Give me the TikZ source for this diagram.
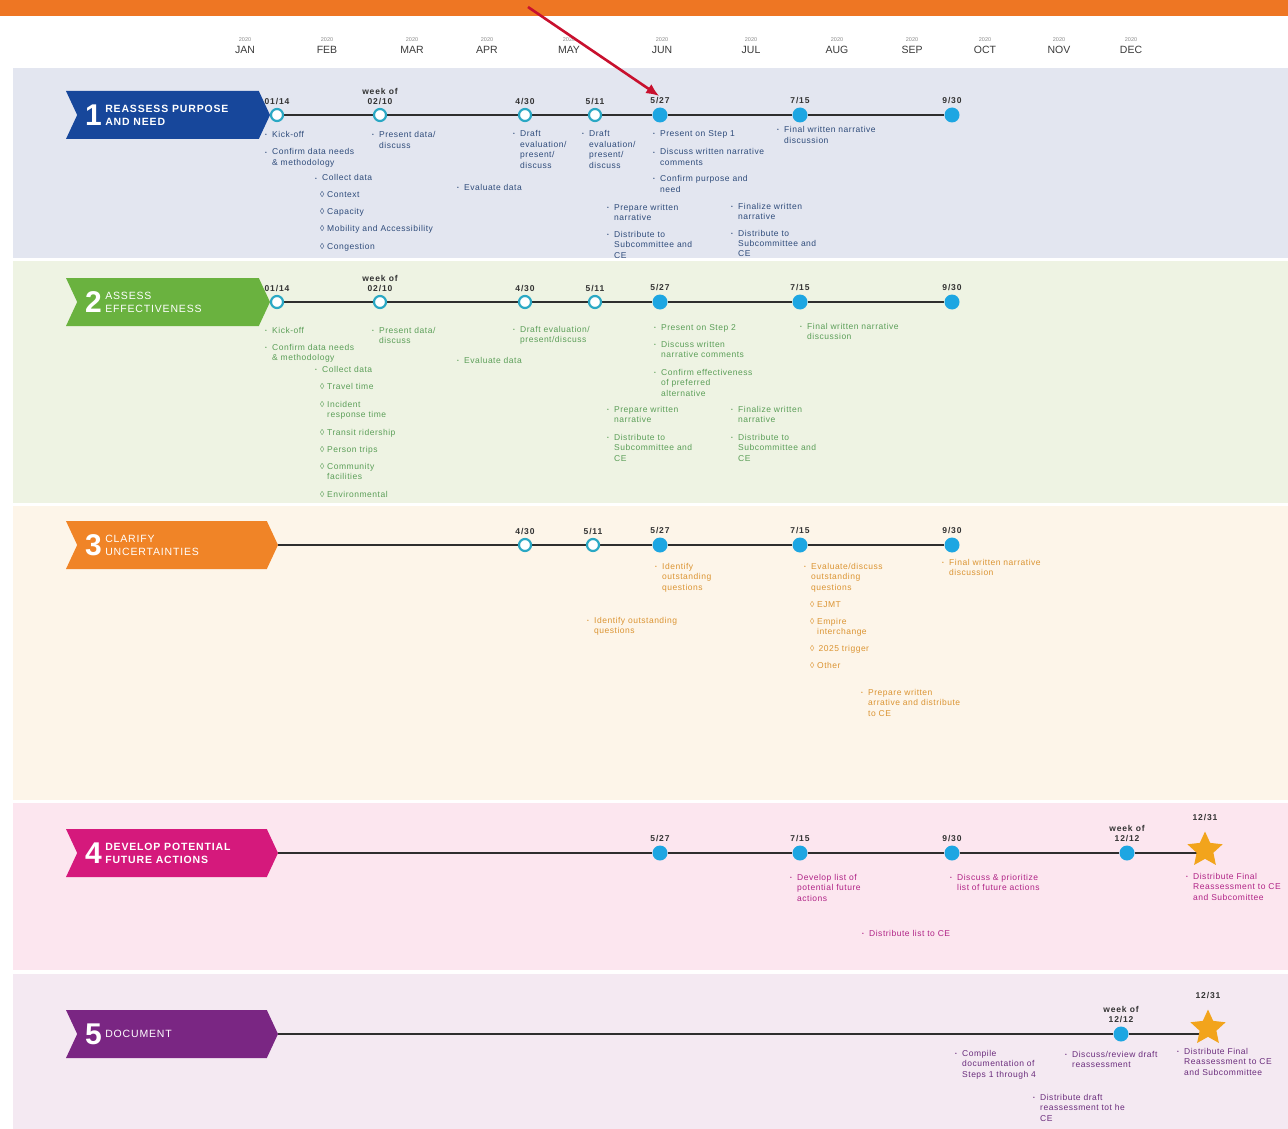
\documentclass[tikz,border=0pt]{standalone}
\usepackage{fontspec}
\setmainfont{Liberation Sans}
\newfontfamily\tlitemfont[LetterSpace=6]{Liberation Sans}
\newfontfamily\tldatefont[LetterSpace=10]{Liberation Sans}
\newfontfamily\tlbanfont[LetterSpace=8]{Liberation Sans}
\usetikzlibrary{positioning,shapes.symbols,shapes.geometric,arrows.meta}
\pgfdeclarelayer{bands}
\pgfdeclarelayer{lines}
\pgfsetlayers{bands,lines,main}

\definecolor{topbar}{HTML}{EE7623}
\definecolor{band1}{HTML}{E3E6F0}
\definecolor{band2}{HTML}{EEF3E3}
\definecolor{band3}{HTML}{FDF5E9}
\definecolor{band4}{HTML}{FCE6EF}
\definecolor{band5}{HTML}{F4E9F2}
\definecolor{ban1}{HTML}{17479B}
\definecolor{ban2}{HTML}{6AB23F}
\definecolor{ban3}{HTML}{F08427}
\definecolor{ban4}{HTML}{D5197C}
\definecolor{ban5}{HTML}{7A2683}
\definecolor{txt1}{HTML}{2E4B7A}
\definecolor{txt2}{HTML}{5B9E58}
\definecolor{txt3}{HTML}{DB9432}
\definecolor{txt4}{HTML}{B02386}
\definecolor{txt5}{HTML}{6A2C7C}
\definecolor{msfill}{HTML}{1DA6E2}
\definecolor{msring}{HTML}{2AA8C4}
\definecolor{stargold}{HTML}{F2A41C}
\definecolor{arrowred}{HTML}{C8102E}
\definecolor{tlgray}{HTML}{2E2E2E}
\definecolor{datecol}{HTML}{333333}
\definecolor{moncol}{HTML}{3A3A3A}
\definecolor{yrcol}{HTML}{8A8A8A}

\newcommand{\bul}[1]{\makebox[7pt][l]{\raisebox{1pt}{\fontsize{5}{5}\selectfont•}}\begin{tabular}[t]{@{}l@{}}#1\end{tabular}}
\newcommand{\dia}[1]{\makebox[7pt][l]{◊}\begin{tabular}[t]{@{}l@{}}#1\end{tabular}}

\tikzset{
  tline/.style={draw=tlgray, line width=1.3pt},
  openms/.style={circle, draw=msring, fill=white, line width=2.2pt, minimum size=12pt, inner sep=0pt},
  fullms/.style={circle, fill=msfill, minimum size=15pt, inner sep=0pt},
  endstar/.style={star, star points=5, star point ratio=2.1, fill=stargold, minimum size=37pt, inner sep=0pt},
  datelbl/.style={font=\tldatefont\bfseries\fontsize{8.5}{10}\selectfont, text=datecol, align=center, inner sep=1pt},
  monlbl/.style={font=\fontsize{10.5}{12}\selectfont, text=moncol, inner sep=0pt},
  yrlbl/.style={font=\fontsize{5.5}{6}\selectfont, text=yrcol, inner sep=0pt},
  stepbanner/.style={signal, signal from=west, signal to=east, signal pointer angle=130, minimum height=48pt, inner sep=0pt},
  bandigit/.style={font=\bfseries\fontsize{30}{30}\selectfont, text=white, inner sep=0pt},
  bantitle/.style={font=\tlbanfont\fontsize{10.5}{13}\selectfont, text=white, align=left, inner sep=0pt},
  bantitlebf/.style={bantitle, font=\tlbanfont\bfseries\fontsize{10.5}{13}\selectfont},
  task/.style={anchor=base west, inner sep=0pt, font=\tlitemfont\fontsize{8.5}{10.5}\selectfont},
  redarrow/.style={draw=arrowred, line width=2.6pt, -{Latex[length=13pt,width=11pt]}}
}

\begin{document}
\begin{tikzpicture}[x=1pt,y=-1pt]
  \useasboundingbox (0,0) rectangle (1288,1129);

  % header and bands
  \begin{pgfonlayer}{bands}
    \fill[topbar] (0,0) rectangle (1288,16);
    \fill[band1] (13,68) rectangle (1288,258);
    \fill[band2] (13,261) rectangle (1288,503);
    \fill[band3] (13,506) rectangle (1288,800);
    \fill[band4] (13,803) rectangle (1288,970);
    \fill[band5] (13,974) rectangle (1288,1129);
  \end{pgfonlayer}

  \foreach \m/\x in {JAN/245,FEB/327,MAR/412,APR/487,MAY/569,JUN/662,
                     JUL/751,AUG/837,SEP/912,OCT/985,NOV/1059,DEC/1131} {
    \node[monlbl] (mon\m) at (\x,50) {\m};
    \node[yrlbl, above=4pt of mon\m] (yr\m) {2020};
  }

  % step banners
  \node[stepbanner, fill=ban1, minimum width=204pt] (bn1) at (168,115) {};
  \node[stepbanner, fill=ban2, minimum width=204pt] (bn2) at (168,302) {};
  \node[stepbanner, fill=ban3, minimum width=212pt] (bn3) at (172,545) {};
  \node[stepbanner, fill=ban4, minimum width=212pt] (bn4) at (172,853) {};
  \node[stepbanner, fill=ban5, minimum width=212pt] (bn5) at (172,1034) {};

  \node[bandigit, right=8pt of bn1.west] (n1) {1};
  \node[bantitlebf, right=3pt of n1] (t1) {REASSESS PURPOSE\\AND NEED};
  \node[bandigit, right=8pt of bn2.west] (n2) {2};
  \node[bantitle, right=3pt of n2] (t2) {ASSESS\\EFFECTIVENESS};
  \node[bandigit, right=8pt of bn3.west] (n3) {3};
  \node[bantitle, right=3pt of n3] (t3) {CLARIFY\\UNCERTAINTIES};
  \node[bandigit, right=8pt of bn4.west] (n4) {4};
  \node[bantitlebf, right=3pt of n4] (t4) {DEVELOP POTENTIAL\\FUTURE ACTIONS};
  \node[bandigit, right=8pt of bn5.west] (n5) {5};
  \node[bantitle, right=3pt of n5] (t5) {DOCUMENT};

  % milestones
  \foreach \row/\y in {1/115,2/302} {
    \foreach \n/\x/\d in {a/277/{01/14},b/380/{week of\\02/10},c/525/{4/30},d/595/{5/11}} {
      \node[openms] (r\row\n) at (\x,\y) {};
      \node[datelbl, above=2pt of r\row\n] (d\row\n) {\d};
    }
    \foreach \n/\x/\d in {e/660/{5/27},f/800/{7/15},g/952/{9/30}} {
      \node[fullms] (r\row\n) at (\x,\y) {};
      \node[datelbl, above=2pt of r\row\n] (d\row\n) {\d};
    }
  }
  \foreach \n/\x/\d in {c/525/{4/30},d/593/{5/11}} {
    \node[openms] (r3\n) at (\x,545) {};
    \node[datelbl, above=2pt of r3\n] (d3\n) {\d};
  }
  \foreach \n/\x/\d in {e/660/{5/27},f/800/{7/15},g/952/{9/30}} {
    \node[fullms] (r3\n) at (\x,545) {};
    \node[datelbl, above=2pt of r3\n] (d3\n) {\d};
  }
  \foreach \n/\x/\d in {e/660/{5/27},f/800/{7/15},g/952/{9/30},h/1127/{week of\\12/12}} {
    \node[fullms] (r4\n) at (\x,853) {};
    \node[datelbl, above=2pt of r4\n] (d4\n) {\d};
  }
  \node[fullms] (r5h) at (1121,1034) {};
  \node[datelbl, above=2pt of r5h] (d5h) {week of\\12/12};
  \node[endstar] (r4s) at (1205,850) {};
  \node[datelbl, above=9pt of r4s] (d4s) {12/31};
  \node[endstar] (r5s) at (1208,1028) {};
  \node[datelbl, above=9pt of r5s] (d5s) {12/31};

  % timelines
  \begin{pgfonlayer}{lines}
    \foreach \row in {1,2}
      \foreach \a/\b in {bn\row.east/r\row a,r\row a/r\row b,r\row b/r\row c,
                         r\row c/r\row d,r\row d/r\row e,r\row e/r\row f,r\row f/r\row g}
        \draw[tline] (\a) -- (\b);
    \foreach \a/\b in {bn3.east/r3c,r3c/r3d,r3d/r3e,r3e/r3f,r3f/r3g,
                       bn4.east/r4e,r4e/r4f,r4f/r4g,r4g/r4h,bn5.east/r5h}
      \draw[tline] (\a) -- (\b);
    \draw[tline] (r4h) -- (r4s.center |- r4h);
    \draw[tline] (r5h) -- (r5s.center |- r5h);
  \end{pgfonlayer}

  % pointer to 5/27
  \coordinate (arrtail) at (528,7);
  \draw[redarrow, shorten >=1pt] (arrtail) -- (d1e.north);

  % step 1 tasks
  \begin{scope}[nodes={task, text=txt1}]
    \node (k1a) at (265,138) {\bul{Kick-off}};
    \node (k1b) at (265,155) {\bul{Confirm data needs\\\& methodology}};
    \node (k1c) at (315,181) {\bul{Collect data}};
    \node (k1d) at (320,197) {\dia{Context}};
    \node (k1e) at (320,214) {\dia{Capacity}};
    \node (k1f) at (320,231) {\dia{Mobility and Accessibility}};
    \node (k1g) at (320,249) {\dia{Congestion}};
    \node (k1h) at (372,138) {\bul{Present data/\\discuss}};
    \node (k1i) at (457,190) {\bul{Evaluate data}};
    \node (k1j) at (513,137) {\bul{Draft\\evaluation/\\present/\\discuss}};
    \node (k1k) at (582,137) {\bul{Draft\\evaluation/\\present/\\discuss}};
    \node (k1l) at (653,137) {\bul{Present on Step 1}};
    \node (k1m) at (653,155) {\bul{Discuss written narrative\\comments}};
    \node (k1n) at (653,182) {\bul{Confirm purpose and\\need}};
    \node (k1o) at (607,210) {\bul{Prepare written\\narrative}};
    \node (k1p) at (607,237) {\bul{Distribute to\\Subcommittee and\\CE}};
    \node (k1q) at (777,133) {\bul{Final written narrative\\discussion}};
    \node (k1r) at (731,209) {\bul{Finalize written\\narrative}};
    \node (k1s) at (731,236) {\bul{Distribute to\\Subcommittee and\\CE}};
  \end{scope}

  % step 2 tasks
  \begin{scope}[nodes={task, text=txt2}]
    \node (k2a) at (265,333) {\bul{Kick-off}};
    \node (k2b) at (265,350) {\bul{Confirm data needs\\\& methodology}};
    \node (k2c) at (315,372) {\bul{Collect data}};
    \node (k2d) at (320,389) {\dia{Travel time}};
    \node (k2e) at (320,407) {\dia{Incident\\response time}};
    \node (k2f) at (320,435) {\dia{Transit ridership}};
    \node (k2g) at (320,452) {\dia{Person trips}};
    \node (k2h) at (320,469) {\dia{Community\\facilities}};
    \node (k2i) at (320,497) {\dia{Environmental}};
    \node (k2j) at (372,333) {\bul{Present data/\\discuss}};
    \node (k2k) at (457,363) {\bul{Evaluate data}};
    \node (k2l) at (513,332) {\bul{Draft evaluation/\\present/discuss}};
    \node (k2m) at (654,330) {\bul{Present on Step 2}};
    \node (k2n) at (654,347) {\bul{Discuss written\\narrative comments}};
    \node (k2o) at (654,375) {\bul{Confirm effectiveness\\of preferred\\alternative}};
    \node (k2p) at (607,412) {\bul{Prepare written\\narrative}};
    \node (k2q) at (607,440) {\bul{Distribute to\\Subcommittee and\\CE}};
    \node (k2r) at (800,329) {\bul{Final written narrative\\discussion}};
    \node (k2s) at (731,412) {\bul{Finalize written\\narrative}};
    \node (k2t) at (731,440) {\bul{Distribute to\\Subcommittee and\\CE}};
  \end{scope}

  % step 3 tasks
  \begin{scope}[nodes={task, text=txt3}]
    \node (k3a) at (655,569) {\bul{Identify\\outstanding\\questions}};
    \node (k3b) at (587,623) {\bul{Identify outstanding\\questions}};
    \node (k3c) at (804,569) {\bul{Evaluate/discuss\\outstanding\\questions}};
    \node (k3d) at (810,607) {\dia{EJMT}};
    \node (k3e) at (810,624) {\dia{Empire\\interchange}};
    \node (k3f) at (810,651) {\dia{\,2025 trigger}};
    \node (k3g) at (810,668) {\dia{Other}};
    \node (k3h) at (861,695) {\bul{Prepare written\\arrative and distribute\\to CE}};
    \node (k3i) at (942,565) {\bul{Final written narrative\\discussion}};
  \end{scope}

  % step 4 tasks
  \begin{scope}[nodes={task, text=txt4}]
    \node (k4a) at (790,880) {\bul{Develop list of\\potential future\\actions}};
    \node (k4b) at (950,880) {\bul{Discuss \& prioritize\\list of future actions}};
    \node (k4c) at (862,936) {\bul{Distribute list to CE}};
    \node (k4d) at (1186,879) {\bul{Distribute Final\\Reassessment to CE\\and Subcomittee}};
  \end{scope}

  % step 5 tasks
  \begin{scope}[nodes={task, text=txt5}]
    \node (k5a) at (955,1056) {\bul{Compile\\documentation of\\Steps 1 through 4}};
    \node (k5b) at (1065,1057) {\bul{Discuss/review draft\\reassessment}};
    \node (k5c) at (1033,1100) {\bul{Distribute draft\\reassessment tot he\\CE}};
    \node (k5d) at (1177,1054) {\bul{Distribute Final\\Reassessment to CE\\and Subcommittee}};
  \end{scope}
\end{tikzpicture}
\end{document}
